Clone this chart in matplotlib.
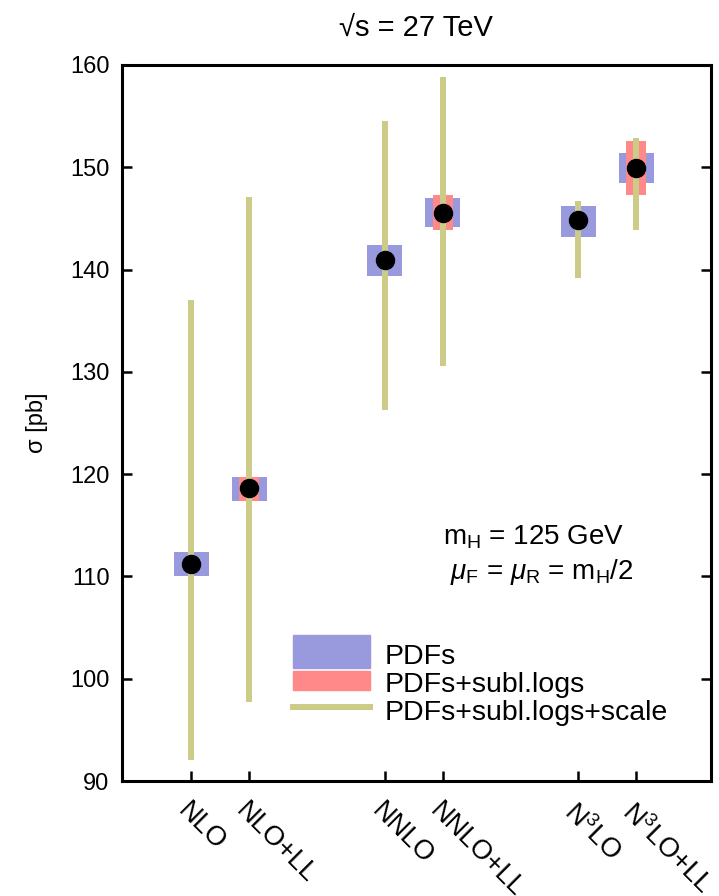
import numpy as np
import matplotlib
matplotlib.use("Agg")
import matplotlib.pyplot as plt
from matplotlib.patches import Rectangle
from matplotlib.lines import Line2D

plt.rcParams['font.family'] = ['Liberation Sans', 'DejaVu Sans']
plt.rcParams['mathtext.fontset'] = 'custom'
plt.rcParams['mathtext.rm'] = 'Liberation Sans'
plt.rcParams['mathtext.it'] = 'Liberation Sans:italic'
plt.rcParams['mathtext.default'] = 'regular'

# orders
labels = ["NLO", "NLO+LL", "NNLO", "NNLO+LL", r"N$^3$LO", r"N$^3$LO+LL"]
xpos = [1.0, 1.3, 2.0, 2.3, 3.0, 3.3]

# cross sections [pb]
central = [111.2, 118.6, 140.9, 145.5, 144.8, 149.9]
pdf_lo = [110.0, 117.4, 139.4, 144.2, 143.2, 148.5]
pdf_hi = [112.4, 119.7, 142.4, 147.0, 146.2, 151.4]
logs_lo = [np.nan, 117.4, np.nan, 143.9, np.nan, 147.3]
logs_hi = [np.nan, 119.7, np.nan, 147.3, np.nan, 152.6]
scale_lo = [92.1, 97.7, 126.3, 130.6, 139.2, 143.9]
scale_hi = [137.0, 147.1, 154.5, 158.8, 146.7, 152.9]

c_pdf = "#9999dd"
c_log = "#ff8888"
c_scl = "#cccc88"

fig = plt.figure(figsize=(7.19, 8.96), dpi=100)
ax = fig.add_axes([0.1697, 0.1283, 0.8192, 0.7992])

pl = np.array(pdf_lo); ph = np.array(pdf_hi)
ax.bar(xpos, ph - pl, bottom=pl, width=0.18, color=c_pdf, zorder=2)
ll = np.array(logs_lo); lh = np.array(logs_hi)
ax.bar(xpos, lh - ll, bottom=ll, width=0.103, color=c_log, zorder=3)
ax.vlines(xpos, scale_lo, scale_hi, color=c_scl, linewidth=4.3, zorder=4)
ax.plot(xpos, central, 'o', color='black', markersize=13, zorder=5)

ax.set_xlim(0.643, 3.687)
ax.set_ylim(90, 160)
ax.set_yticks(range(90, 161, 10))
ax.set_xticks(xpos)
ax.set_xticklabels(labels, rotation=-45, ha='left', va='top',
                   rotation_mode='anchor', fontsize=19.5)
ax.tick_params(axis='y', labelsize=17, direction='in', length=7, width=1.8,
               right=True, pad=9)
ax.tick_params(axis='x', direction='in', length=7, width=1.8, pad=12)
for s in ax.spines.values():
    s.set_linewidth(2.2)

ax.set_ylabel(r"σ [pb]", fontsize=17, labelpad=16)
fig.text(0.578, 0.969, "√s = 27 TeV", fontsize=21, ha='center', va='center')

ax.text(0.545, 0.341, r"m$_\mathrm{H}$ = 125 GeV", transform=ax.transAxes,
        fontsize=20, va='center', ha='left')
ax.text(0.557, 0.292, r"$\mathit{\mu}_\mathrm{F}$ = $\mathit{\mu}_\mathrm{R}$ = m$_\mathrm{H}$/2",
        transform=ax.transAxes, fontsize=20, va='center', ha='left')

# legend drawn by hand (gnuplot style)
ax.add_patch(Rectangle((0.290, 0.158), 0.131, 0.046, transform=ax.transAxes,
                       color=c_pdf, clip_on=False))
ax.add_patch(Rectangle((0.290, 0.127), 0.131, 0.027, transform=ax.transAxes,
                       color=c_log, clip_on=False))
ax.add_line(Line2D([0.290, 0.421], [0.103, 0.103], transform=ax.transAxes,
                   color=c_scl, linewidth=4.3))
ax.text(0.4465, 0.173, "PDFs", transform=ax.transAxes, fontsize=20.5, va='center')
ax.text(0.4465, 0.134, "PDFs+subl.logs", transform=ax.transAxes, fontsize=20.5, va='center')
ax.text(0.4465, 0.095, "PDFs+subl.logs+scale", transform=ax.transAxes, fontsize=20.5, va='center')

fig.savefig("out.png", dpi=100)
